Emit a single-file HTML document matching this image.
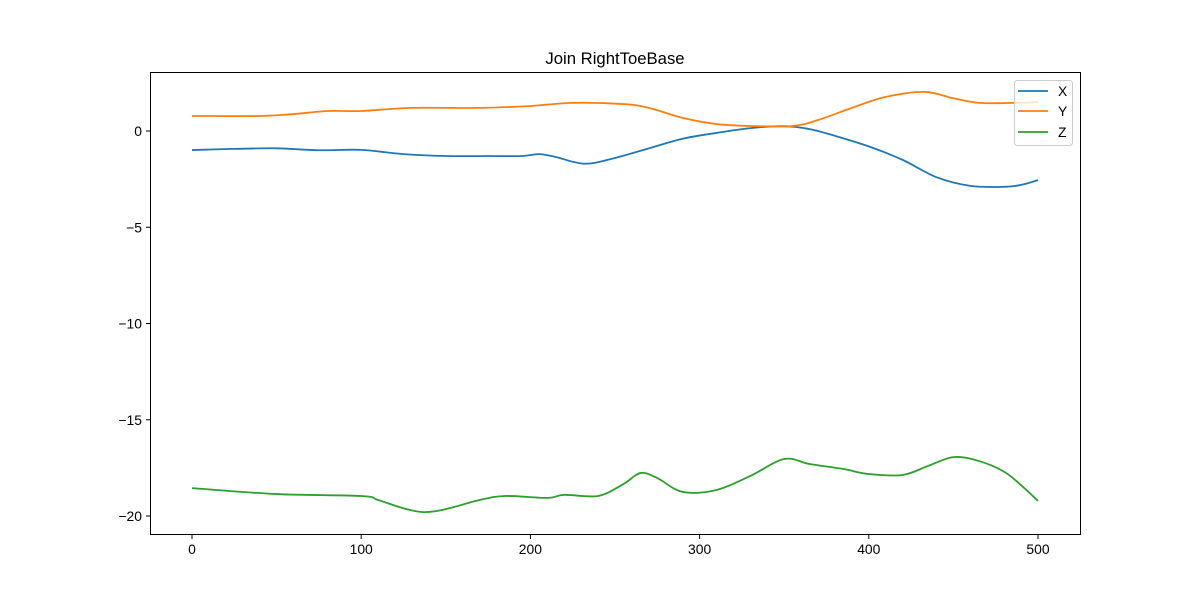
<!DOCTYPE html>
<html><head><meta charset="utf-8"><style>
body{margin:0;background:#fff;width:1200px;height:600px;overflow:hidden}
svg{font-family:"Liberation Sans","DejaVu Sans",sans-serif}
</style></head><body>
<svg id="chart" width="1200" height="600"></svg>
<script>
const xs = [0,25,50,75,100,125,150,175,195,205,215,232,250,270,290,310,330,350,365,380,400,420,440,460,480,490,500];
const seriesX = [-0.99,-0.93,-0.9,-1.0,-0.98,-1.2,-1.3,-1.3,-1.3,-1.2,-1.35,-1.7,-1.4,-0.9,-0.4,-0.1,0.15,0.25,0.1,-0.25,-0.8,-1.5,-2.4,-2.85,-2.9,-2.8,-2.55];
const xsY = [0,40,60,80,100,130,170,200,225,255,270,290,310,330,355,370,390,410,433,450,465,485,500];
const seriesY = [0.78,0.78,0.88,1.04,1.04,1.2,1.2,1.3,1.46,1.4,1.2,0.68,0.36,0.26,0.26,0.57,1.2,1.77,2.03,1.7,1.46,1.46,1.5];
const xsZ = [0,50,100,110,125,137,150,170,185,210,220,240,255,265,275,290,310,330,350,365,385,400,420,435,450,465,480,490,500];
const seriesZ = [-18.55,-18.86,-18.96,-19.17,-19.6,-19.8,-19.64,-19.17,-18.96,-19.06,-18.9,-18.96,-18.34,-17.77,-18.03,-18.75,-18.65,-17.92,-17.04,-17.3,-17.56,-17.82,-17.87,-17.4,-16.94,-17.14,-17.7,-18.4,-19.22];
const xTicks = [0,100,200,300,400,500];
const yTicks = [0,-5,-10,-15,-20];

const svg = document.getElementById('chart');
const NS = 'http://www.w3.org/2000/svg';
const sx = v => 192 + v * 1.692;
const sy = v => 131 - v * 19.25;
function mk(tag, attrs, parent){const e=document.createElementNS(NS,tag);for(const k in attrs)e.setAttribute(k,attrs[k]);(parent||svg).appendChild(e);return e;}

const frame = mk('rect',{x:150.5,y:72.5,width:930,height:462,fill:'none',stroke:'#000','stroke-width':1});



xTicks.forEach(t=>{
  const g=mk('g',{});
  
  
  mk('line',{x1:sx(t),x2:sx(t),y1:534.5,y2:539,stroke:'#000'},g);
  const tx=mk('text',{x:sx(t),y:554,'text-anchor':'middle','font-size':13.9},g);tx.textContent=t;
});
yTicks.forEach(t=>{
  const g=mk('g',{});
  
  
  mk('line',{x1:146,x2:150.5,y1:sy(t),y2:sy(t),stroke:'#000'},g);
  const tx=mk('text',{x:142,y:sy(t)+5,'text-anchor':'end','font-size':13.9},g);tx.textContent=t<0?'\u2212'+(-t):t;
});

function path(xv,yv){
  const p=xv.map((x,i)=>[sx(x),sy(yv[i])]);
  let d='M'+p[0][0]+','+p[0][1];
  for(let i=0;i<p.length-1;i++){
    const p0=p[i-1]||p[i],p1=p[i],p2=p[i+1],p3=p[i+2]||p2;
    const c1=[p1[0]+(p2[0]-p0[0])/6,p1[1]+(p2[1]-p0[1])/6];
    const c2=[p2[0]-(p3[0]-p1[0])/6,p2[1]-(p3[1]-p1[1])/6];
    d+=' C'+c1+' '+c2+' '+p2;
  }
  return d;
}
const lx=mk('path',{d:path(xs,seriesX),fill:'none',stroke:'#1f77b4','stroke-width':1.8});


const ly=mk('path',{d:path(xsY,seriesY),fill:'none',stroke:'#ff7f0e','stroke-width':1.8});


const lz=mk('path',{d:path(xsZ,seriesZ),fill:'none',stroke:'#2ca02c','stroke-width':1.8});



const title=mk('text',{x:615,y:64,'text-anchor':'middle','font-size':16.7});
title.textContent='Join RightToeBase';



const lg=mk('g',{});


mk('rect',{x:1014.5,y:80.5,width:58,height:65,rx:3,fill:'#fff','fill-opacity':0.8,stroke:'#ccc'},lg);
[['X','#1f77b4',91],['Y','#ff7f0e',111],['Z','#2ca02c',132]].forEach(([n,c,y])=>{
  const e=mk('g',{},lg);
  
  
  mk('line',{x1:1018,x2:1048,y1:y,y2:y,stroke:c,'stroke-width':1.8},e);
  const t=mk('text',{x:1058,y:y+5,'font-size':13.9},e);t.textContent=n;
});
</script>
</body></html>
